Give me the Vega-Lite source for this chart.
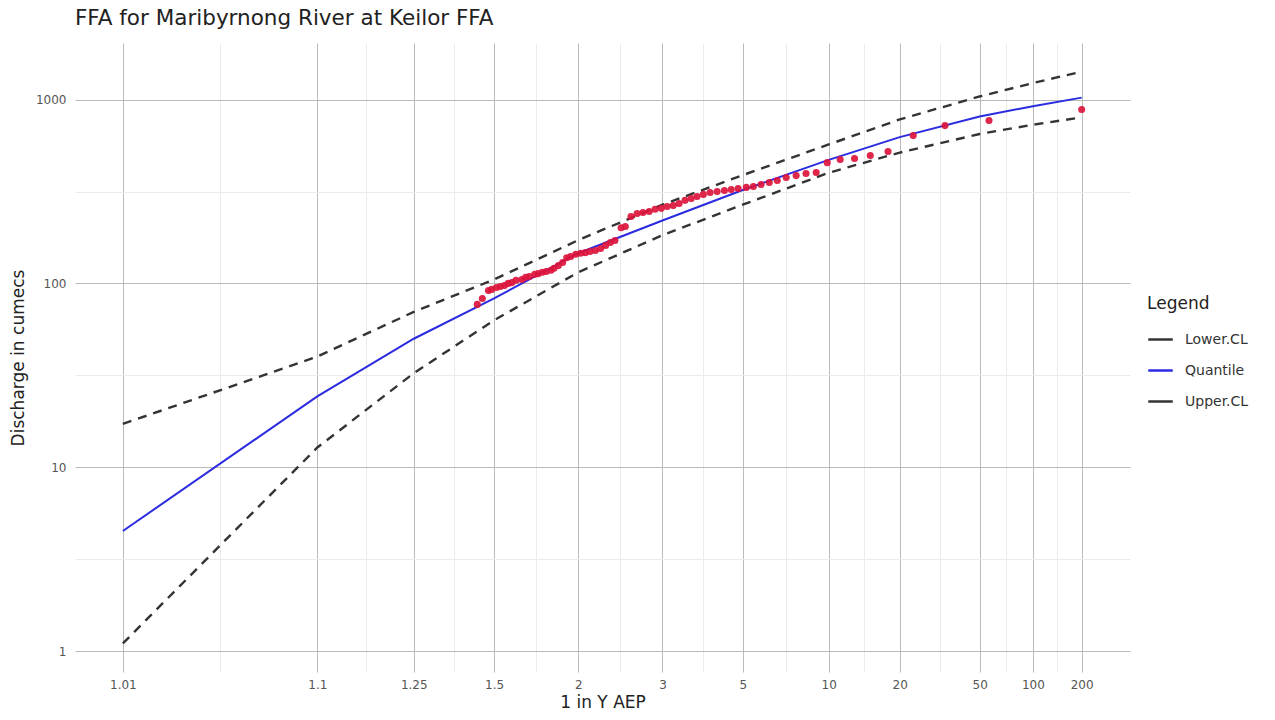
{
  "$schema": "https://vega.github.io/schema/vega-lite/v6.json",
  "width": 1055,
  "height": 629,
  "autosize": {"type": "none"},
  "padding": {"left": 75, "top": 43, "right": 145, "bottom": 48},
  "background": "white",
  "config": {"font": "DejaVu Sans", "view": {"stroke": null}},
  "title": {"text": "FFA for Maribyrnong River at Keilor FFA", "anchor": "start", "frame": "group", "fontSize": 21.5, "fontWeight": "normal", "color": "#222222", "baseline": "alphabetic", "offset": -3},
  "datasets": {
    "lines": [
      {"ari": 1.01, "Q": 4.5, "series": "Quantile"},
      {"ari": 1.1, "Q": 24.3, "series": "Quantile"},
      {"ari": 1.25, "Q": 50, "series": "Quantile"},
      {"ari": 1.5, "Q": 83, "series": "Quantile"},
      {"ari": 2, "Q": 146, "series": "Quantile"},
      {"ari": 3, "Q": 220, "series": "Quantile"},
      {"ari": 5, "Q": 322, "series": "Quantile"},
      {"ari": 10, "Q": 470, "series": "Quantile"},
      {"ari": 20, "Q": 625, "series": "Quantile"},
      {"ari": 50, "Q": 810, "series": "Quantile"},
      {"ari": 100, "Q": 920, "series": "Quantile"},
      {"ari": 200, "Q": 1025, "series": "Quantile"},
      {"ari": 1.01, "Q": 17.2, "series": "Upper.CL"},
      {"ari": 1.1, "Q": 40, "series": "Upper.CL"},
      {"ari": 1.25, "Q": 70, "series": "Upper.CL"},
      {"ari": 1.5, "Q": 105, "series": "Upper.CL"},
      {"ari": 2, "Q": 172, "series": "Upper.CL"},
      {"ari": 3, "Q": 268, "series": "Upper.CL"},
      {"ari": 5, "Q": 388, "series": "Upper.CL"},
      {"ari": 10, "Q": 570, "series": "Upper.CL"},
      {"ari": 20, "Q": 780, "series": "Upper.CL"},
      {"ari": 50, "Q": 1040, "series": "Upper.CL"},
      {"ari": 100, "Q": 1230, "series": "Upper.CL"},
      {"ari": 200, "Q": 1420, "series": "Upper.CL"},
      {"ari": 1.01, "Q": 1.1, "series": "Lower.CL"},
      {"ari": 1.1, "Q": 12.8, "series": "Lower.CL"},
      {"ari": 1.25, "Q": 32.5, "series": "Lower.CL"},
      {"ari": 1.5, "Q": 63, "series": "Lower.CL"},
      {"ari": 2, "Q": 115, "series": "Lower.CL"},
      {"ari": 3, "Q": 183, "series": "Lower.CL"},
      {"ari": 5, "Q": 268, "series": "Lower.CL"},
      {"ari": 10, "Q": 400, "series": "Lower.CL"},
      {"ari": 20, "Q": 515, "series": "Lower.CL"},
      {"ari": 50, "Q": 650, "series": "Lower.CL"},
      {"ari": 100, "Q": 730, "series": "Lower.CL"},
      {"ari": 200, "Q": 800, "series": "Lower.CL"}
    ],
    "points": [
      {"ari": 1.434, "Q": 76.9}, {"ari": 1.453, "Q": 82.8}, {"ari": 1.477, "Q": 91.6}, {"ari": 1.49, "Q": 92.8},
      {"ari": 1.51, "Q": 95}, {"ari": 1.527, "Q": 96.3}, {"ari": 1.545, "Q": 97.5}, {"ari": 1.5625, "Q": 100},
      {"ari": 1.58, "Q": 101}, {"ari": 1.6, "Q": 104}, {"ari": 1.63, "Q": 105}, {"ari": 1.65, "Q": 108},
      {"ari": 1.67, "Q": 109}, {"ari": 1.7, "Q": 112}, {"ari": 1.72, "Q": 113}, {"ari": 1.745, "Q": 115},
      {"ari": 1.77, "Q": 116}, {"ari": 1.8, "Q": 118}, {"ari": 1.82, "Q": 121}, {"ari": 1.85, "Q": 125},
      {"ari": 1.88, "Q": 130}, {"ari": 1.91, "Q": 138}, {"ari": 1.94, "Q": 140}, {"ari": 1.98, "Q": 144},
      {"ari": 2.02, "Q": 146}, {"ari": 2.06, "Q": 147}, {"ari": 2.1, "Q": 149}, {"ari": 2.15, "Q": 151},
      {"ari": 2.2, "Q": 155}, {"ari": 2.25, "Q": 161}, {"ari": 2.3, "Q": 167}, {"ari": 2.35, "Q": 171},
      {"ari": 2.42, "Q": 201}, {"ari": 2.47, "Q": 204}, {"ari": 2.54, "Q": 231}, {"ari": 2.62, "Q": 240},
      {"ari": 2.7, "Q": 243}, {"ari": 2.79, "Q": 246}, {"ari": 2.88, "Q": 253}, {"ari": 2.98, "Q": 256},
      {"ari": 3.08, "Q": 262}, {"ari": 3.19, "Q": 265}, {"ari": 3.3, "Q": 272}, {"ari": 3.42, "Q": 283},
      {"ari": 3.55, "Q": 290}, {"ari": 3.68, "Q": 297}, {"ari": 3.83, "Q": 305}, {"ari": 4.0, "Q": 312},
      {"ari": 4.19, "Q": 316}, {"ari": 4.4, "Q": 320}, {"ari": 4.61, "Q": 324}, {"ari": 4.84, "Q": 328},
      {"ari": 5.13, "Q": 333}, {"ari": 5.4, "Q": 337}, {"ari": 5.72, "Q": 345}, {"ari": 6.09, "Q": 354},
      {"ari": 6.48, "Q": 363}, {"ari": 6.96, "Q": 377}, {"ari": 7.55, "Q": 386}, {"ari": 8.2, "Q": 396},
      {"ari": 8.95, "Q": 401}, {"ari": 9.87, "Q": 454}, {"ari": 11.1, "Q": 472}, {"ari": 12.7, "Q": 478},
      {"ari": 14.8, "Q": 496}, {"ari": 17.7, "Q": 522}, {"ari": 23.1, "Q": 637}, {"ari": 33, "Q": 722},
      {"ari": 56.2, "Q": 769}, {"ari": 200, "Q": 883}
    ]
  },
  "encoding": {
    "x": {
      "field": "z", "type": "quantitative", "title": "1 in Y AEP",
      "scale": {"domain": [-2.575, 2.823], "nice": false, "zero": false},
      "axis": {
        "values": [-2.33, -1.8326, -1.3352, -1.0884, -0.8416, -0.6362, -0.4307, -0.2154, 0, 0.2154, 0.4307, 0.6362, 0.8416, 1.0616, 1.2816, 1.4632, 1.6449, 1.8493, 2.0537, 2.19, 2.3263, 2.4511, 2.5758],
        "labelExpr": "indexof([-1.8326, -1.0884, -0.6362, -0.2154, 0.2154, 0.6362, 1.0616, 1.4632, 1.8493, 2.19, 2.4511], datum.value) >= 0 ? '' : format(1/(1-cumulativeNormal(datum.value)), '.3~r')",
        "grid": true,
        "gridColor": {"condition": {"test": "indexof([-1.8326, -1.0884, -0.6362, -0.2154, 0.2154, 0.6362, 1.0616, 1.4632, 1.8493, 2.19, 2.4511], datum.value) >= 0", "value": "#ebebeb"}, "value": "#bababa"},
        "gridWidth": 1,
        "domain": false, "ticks": false,
        "labelColor": "#555555", "labelFontSize": 12, "labelPadding": 7,
        "titleFontSize": 17, "titleFontWeight": "normal", "titleColor": "#222222", "titlePadding": 4
      }
    },
    "y": {
      "field": "Q", "type": "quantitative", "title": "Discharge in cumecs",
      "scale": {"type": "log", "domain": [0.769, 2032], "nice": false},
      "axis": {
        "values": [1, 3.1623, 10, 31.623, 100, 316.23, 1000],
        "labelExpr": "datum.value == 1 || datum.value == 10 || datum.value == 100 || datum.value == 1000 ? format(datum.value, 'd') : ''",
        "grid": true,
        "gridColor": {"condition": {"test": "datum.value == 1 || datum.value == 10 || datum.value == 100 || datum.value == 1000", "value": "#bababa"}, "value": "#ebebeb"},
        "gridWidth": 1,
        "domain": false, "ticks": false,
        "labelColor": "#555555", "labelFontSize": 12, "labelPadding": 9,
        "titleFontSize": 17, "titleFontWeight": "normal", "titleColor": "#222222", "titlePadding": 8
      }
    }
  },
  "layer": [
    {
      "data": {"name": "lines"},
      "transform": [{"filter": "datum.series == 'Quantile'"}, {"calculate": "quantileNormal(1 - 1/datum.ari)", "as": "z"}],
      "mark": {"type": "line", "strokeWidth": 2},
      "encoding": {
        "color": {
          "field": "series", "type": "nominal", "title": "Legend",
          "scale": {"domain": ["Lower.CL", "Quantile", "Upper.CL"], "range": ["#333333", "#2b2be0", "#333333"]},
          "legend": {"orient": "none", "legendX": 1072, "legendY": 253, "symbolType": "stroke", "symbolSize": 600, "symbolStrokeWidth": 2.5, "titleFontSize": 17, "titleFontWeight": "normal", "titleColor": "#222222", "labelFontSize": 14, "labelColor": "#333333", "rowPadding": 10, "titlePadding": 13, "labelOffset": 11}
        }
      }
    },
    {
      "data": {"name": "lines"},
      "transform": [{"filter": "datum.series != 'Quantile'"}, {"calculate": "quantileNormal(1 - 1/datum.ari)", "as": "z"}],
      "mark": {"type": "line", "strokeWidth": 2.4, "strokeDash": [9, 7]},
      "encoding": {
        "color": {"field": "series", "type": "nominal", "title": "Legend"}
      }
    },
    {
      "data": {"name": "points"},
      "transform": [{"calculate": "quantileNormal(1 - 1/datum.ari)", "as": "z"}],
      "mark": {"type": "circle", "size": 50, "color": "#DC143C", "opacity": 0.92}
    }
  ]
}
